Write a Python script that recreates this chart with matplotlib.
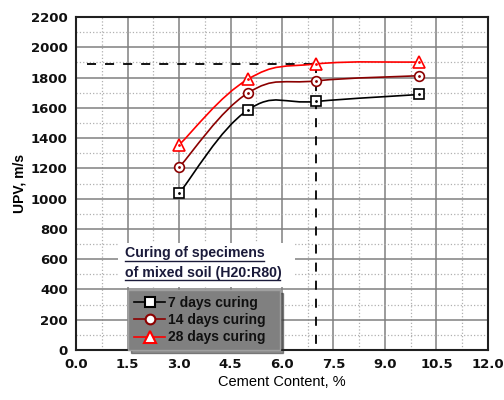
import matplotlib
matplotlib.use("Agg")
import matplotlib.pyplot as plt
from matplotlib.path import Path
from matplotlib.patches import PathPatch
from matplotlib.lines import Line2D
from matplotlib.ticker import MultipleLocator

plt.rcParams['font.family'] = ['Liberation Sans', 'DejaVu Sans']

cement = [3, 5, 7, 10]
upv_7 = [1035, 1585, 1642, 1688]
upv_14 = [1207, 1697, 1778, 1812]
upv_28 = [1355, 1788, 1890, 1902]

series = [
    ("7 days curing", upv_7, "black", "s", 6.5),
    ("14 days curing", upv_14, "#8b0000", "o", 7),
    ("28 days curing", upv_28, "red", "^", 8),
]

ref_x = 7.0
ref_y = 1890
ref_x_start = 0.33

xticks = [0.0, 1.5, 3.0, 4.5, 6.0, 7.5, 9.0, 10.5, 12.0]
yticks = list(range(0, 2201, 200))


def smooth_path(xs, ys, k=0.2):
    pts = list(zip(xs, ys))
    n = len(pts)
    verts = [pts[0]]
    codes = [Path.MOVETO]
    for i in range(n - 1):
        p0 = pts[i - 1] if i > 0 else pts[i]
        p1 = pts[i]
        p2 = pts[i + 1]
        p3 = pts[i + 2] if i + 2 < n else pts[i + 1]
        c1 = (p1[0] + (p2[0] - p0[0]) * k, p1[1] + (p2[1] - p0[1]) * k)
        c2 = (p2[0] - (p3[0] - p1[0]) * k, p2[1] - (p3[1] - p1[1]) * k)
        verts += [c1, c2, p2]
        codes += [Path.CURVE4] * 3
    return Path(verts, codes)


fig = plt.figure(figsize=(5.04, 4.0), dpi=100)
ax = fig.add_axes([0.151, 0.125, 0.817, 0.8325])

ax.set_xlim(0, 12)
ax.set_ylim(0, 2200)
ax.xaxis.set_major_locator(MultipleLocator(1.5))
ax.xaxis.set_minor_locator(MultipleLocator(0.75))
ax.yaxis.set_major_locator(MultipleLocator(200))
ax.yaxis.set_minor_locator(MultipleLocator(100))
ax.grid(which='major', color='#808080', linestyle='-', linewidth=1.1)
ax.grid(which='minor', color='#b0b0b0', linestyle=':', linewidth=0.9)
ax.set_axisbelow(True)
ax.tick_params(which='both', length=0)
ax.tick_params(axis='both', pad=6)
ax.set_xticks(xticks)
ax.set_xticklabels([f"{t:.1f}" for t in xticks], fontweight='bold', fontsize=9.5,
                   family='DejaVu Sans', color='#101010')
ax.set_yticks(yticks)
ax.set_yticklabels([str(t) for t in yticks], fontweight='bold', fontsize=9.5,
                   family='DejaVu Sans', color='#101010')
for s in ax.spines.values():
    s.set_color('#202020')
    s.set_linewidth(1.5)

ax.set_xlabel("Cement Content, %", fontsize=10.5, labelpad=3)
ax.set_ylabel("UPV, m/s", fontsize=10, fontweight='bold', labelpad=3)

# reference dashed lines
ax.plot([ref_x_start, ref_x], [ref_y, ref_y], color='black', linestyle=(0, (5, 5)), linewidth=1.3, zorder=3)
ax.plot([ref_x, ref_x], [ref_y, 0], color='black', linestyle=(0, (5, 5)), linewidth=1.3, zorder=3)

handles = []
for label, vals, col, mk, ms in series:
    ax.add_patch(PathPatch(smooth_path(cement, vals), facecolor='none', edgecolor=col, linewidth=1.2, zorder=4))
    ax.plot(cement, vals, linestyle='none', marker=mk, markersize=ms, markerfacecolor='white',
            markeredgecolor=col, markeredgewidth=1.2, zorder=5)
    ax.plot(cement, vals, linestyle='none', marker='.', markersize=2, color=col, zorder=6)
    handles.append(Line2D([], [], color=col, linewidth=1.2, marker=mk, markersize=ms,
                          markerfacecolor='white', markeredgecolor=col, markeredgewidth=1.5))

# title block with white background
title_col = '#1a1a3a'
ax.add_patch(plt.Rectangle((0.102, 0.19), 0.43, 0.13, transform=ax.transAxes,
                           facecolor='white', edgecolor='none', zorder=6))
ax.text(0.119, 0.291, "Curing of specimens", transform=ax.transAxes, fontsize=10.2,
        fontweight='bold', color=title_col, va='center', ha='left', zorder=7)
ax.text(0.119, 0.232, "of mixed soil (H20:R80)", transform=ax.transAxes, fontsize=10.2,
        fontweight='bold', color=title_col, va='center', ha='left', zorder=7)
ax.plot([0.119, 0.457], [0.266, 0.266], transform=ax.transAxes, color=title_col, linewidth=1.0, zorder=7)
ax.plot([0.119, 0.496], [0.210, 0.210], transform=ax.transAxes, color=title_col, linewidth=1.0, zorder=7)

leg = ax.legend(handles, [s[0] for s in series], loc='lower left',
                bbox_to_anchor=(0.126, 0.0, 0.37, 0.19), mode='expand',
                frameon=True, fancybox=False, shadow=True,
                facecolor='#808080', edgecolor='#a0a0a0', framealpha=1,
                borderaxespad=0, handlelength=2.3, handletextpad=0.2,
                labelspacing=0.25, borderpad=0.4,
                prop={'weight': 'bold', 'size': 10})
leg.set_zorder(8)
for txt in leg.get_texts():
    txt.set_color('#101010')

fig.savefig("out.png", dpi=100)
